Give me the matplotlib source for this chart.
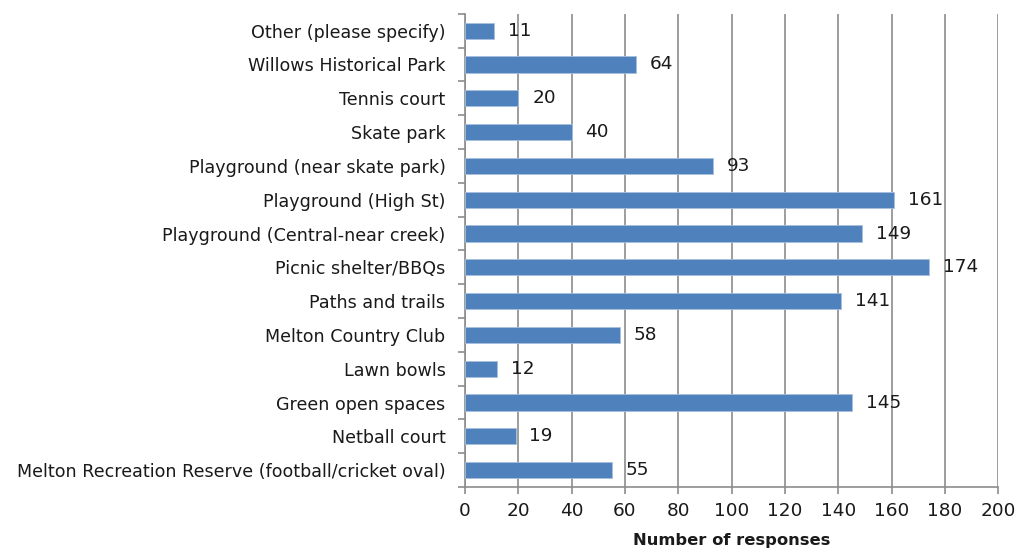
import matplotlib
matplotlib.use("Agg")
import matplotlib.pyplot as plt
import numpy as np

categories = [
    "Other (please specify)",
    "Willows Historical Park",
    "Tennis court",
    "Skate park",
    "Playground (near skate park)",
    "Playground (High St)",
    "Playground (Central-near creek)",
    "Picnic shelter/BBQs",
    "Paths and trails",
    "Melton Country Club",
    "Lawn bowls",
    "Green open spaces",
    "Netball court",
    "Melton Recreation Reserve (football/cricket oval)",
]
responses = [11, 64, 20, 40, 93, 161, 149, 174, 141, 58, 12, 145, 19, 55]
x_ticks = list(range(0, 201, 20))

BAR_COLOR = "#4F81BD"
GRID_COLOR = "#8c8c8c"
TEXT_COLOR = "#1a1a1a"

plt.rcParams["font.family"] = ["DejaVu Sans"]

fig = plt.figure(figsize=(10.24, 5.51), dpi=100)
ax = fig.add_axes([0.454, 0.116, 0.521, 0.859])

n = len(categories)
y = np.arange(n)[::-1]
ax.barh(y, responses, height=0.48, color=BAR_COLOR, edgecolor="#a7c0de",
        linewidth=0.6, zorder=3)

for yi, v in zip(y, responses):
    ax.annotate(str(v), (v, yi), xytext=(10, 0), textcoords="offset points",
                va="center", ha="left", fontsize=13.3, color=TEXT_COLOR, zorder=4)

ax.set_xlim(0, 200)
ax.set_ylim(-0.5, n - 0.5)
ax.set_xticks(x_ticks)
ax.set_xticklabels([str(t) for t in x_ticks], fontsize=13.3, color=TEXT_COLOR)
ax.set_yticks(y)
ax.set_yticklabels(categories, fontsize=12.6, color=TEXT_COLOR)
ax.set_yticks(np.arange(n + 1) - 0.5, minor=True)
ax.tick_params(axis="y", which="major", length=0, pad=14)
ax.tick_params(axis="y", which="minor", length=5, color=GRID_COLOR, width=1.2)
ax.tick_params(axis="x", which="major", length=5, color=GRID_COLOR, width=1.2,
               pad=6)

ax.grid(axis="x", color=GRID_COLOR, linewidth=1.2, zorder=0)
for s in ["top", "right"]:
    ax.spines[s].set_visible(False)
for s in ["left", "bottom"]:
    ax.spines[s].set_color(GRID_COLOR)
    ax.spines[s].set_linewidth(1.2)

ax.set_xlabel("Number of responses", fontsize=11.8, fontweight="bold",
              color=TEXT_COLOR, labelpad=9)

fig.savefig("out.png", dpi=100)
